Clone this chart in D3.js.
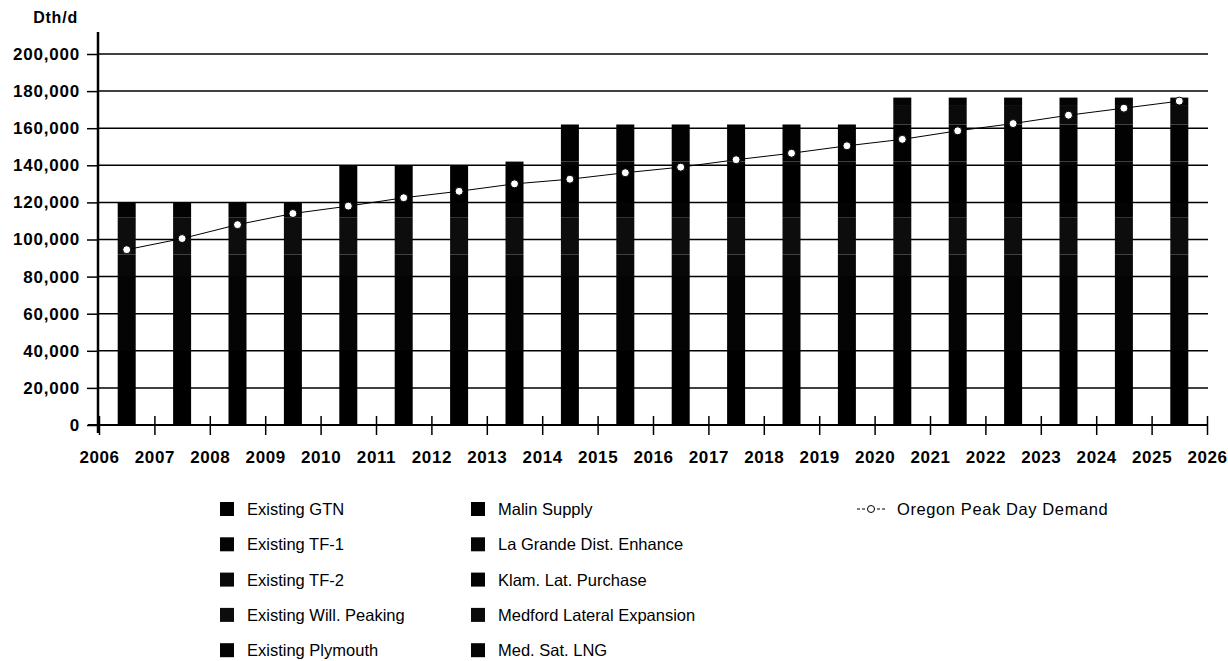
<!DOCTYPE html>
<html>
<head>
<meta charset="utf-8">
<script src="https://cdn.jsdelivr.net/npm/d3@7"></script>
<style>
body { margin: 0; background: #fff; }
svg { font-family: "Liberation Sans", Arial, sans-serif; }
</style>
</head>
<body>
<svg id="chart" width="1228" height="661"></svg>
<script>
// years on the axis, bars sit between ticks
var years = d3.range(2006, 2026);
var tickYears = d3.range(2006, 2027);

// resource stack (Dth/d)
var existingGTN   = [40000,40000,40000,40000,40000,40000,40000,40000,40000,40000,40000,40000,40000,40000,40000,40000,40000,40000,40000,40000];
var existingTF1   = [40000,40000,40000,40000,40000,40000,40000,40000,40000,40000,40000,40000,40000,40000,40000,40000,40000,40000,40000,40000];
var existingTF2   = [12000,12000,12000,12000,12000,12000,12000,12000,12000,12000,12000,12000,12000,12000,12000,12000,12000,12000,12000,12000];
var willPeaking   = [20000,20000,20000,20000,20000,20000,20000,20000,20000,20000,20000,20000,20000,20000,20000,20000,20000,20000,20000,20000];
var plymouth      = [8000,8000,8000,8000,8000,8000,8000,8000,8000,8000,8000,8000,8000,8000,8000,8000,8000,8000,8000,8000];
var malinSupply   = [0,0,0,0,20000,20000,20000,20000,20000,20000,20000,20000,20000,20000,20000,20000,20000,20000,20000,20000];
var laGrande      = [0,0,0,0,0,0,0,2000,2000,2000,2000,2000,2000,2000,2000,2000,2000,2000,2000,2000];
var klamLat       = [0,0,0,0,0,0,0,0,20000,20000,20000,20000,20000,20000,20000,20000,20000,20000,20000,20000];
var medfordExp    = [0,0,0,0,0,0,0,0,0,0,0,0,0,0,10000,10000,10000,10000,10000,10000];
var medSatLNG     = [0,0,0,0,0,0,0,0,0,0,0,0,0,0,4500,4500,4500,4500,4500,4500];

var peakDemand = [94500,100500,108000,114000,118000,122500,126000,130000,132500,136000,139000,143000,146500,150500,154000,158600,162500,167000,170800,174600];

var seriesNames = ["Existing GTN","Existing TF-1","Existing TF-2","Existing Will. Peaking","Existing Plymouth",
  "Malin Supply","La Grande Dist. Enhance","Klam. Lat. Purchase","Medford Lateral Expansion","Med. Sat. LNG"];
var seriesValues = [existingGTN, existingTF1, existingTF2, willPeaking, plymouth,
  malinSupply, laGrande, klamLat, medfordExp, medSatLNG];
var seriesColors = ["#000","#040404","#080808","#0d0d0d","#030303","#000","#060606","#020202","#0a0a0a","#040404"];

var yTicks = d3.range(0, 200001, 20000);

var svg = d3.select("#chart");
var plotL = 98, plotR = 1208, plotT = 32, plotB = 425;

var x = d3.scaleLinear().domain([2006, 2026]).range([plotL + 1, 1207]);
var y = d3.scaleLinear().domain([0, 200000]).range([plotB, 54]);

// table for stacking
var rows = years.map(function (yr, i) {
	var r = { year: yr };
	seriesNames.forEach(function (n, j) { r[n] = seriesValues[j][i]; });
	return r;
});
var stacked = d3.stack().keys(seriesNames)(rows);

// grid
svg.append("g").selectAll("line").data(yTicks.filter(d => d > 0)).join("line")
	.attr("x1", plotL).attr("x2", plotR)
	.attr("y1", d => y(d)).attr("y2", d => y(d))
	.attr("stroke", "#000").attr("stroke-width", 1.5);

// bars
var barW = 18;
svg.append("g").selectAll("g").data(stacked).join("g")
	.attr("fill", (d, i) => seriesColors[i])
	.selectAll("rect").data(d => d).join("rect")
	.attr("x", d => x(d.data.year + 0.5) - barW / 2)
	.attr("width", barW)
	.attr("y", d => y(d[1]))
	.attr("height", d => y(d[0]) - y(d[1]));

// y axis
var yAxis = d3.axisLeft(y).tickValues(yTicks).tickSize(11).tickPadding(7)
	.tickFormat(d3.format(","));
var ya = svg.append("g").attr("transform", "translate(" + plotL + ",0)").call(yAxis);
ya.select(".domain").remove();
ya.selectAll("line").attr("stroke-width", 1.5);
ya.selectAll("text").attr("font-size", 17).attr("font-weight", "bold")
	.attr("letter-spacing", 0.8).attr("fill", "#000");
svg.append("line").attr("x1", plotL).attr("x2", plotL).attr("y1", plotT).attr("y2", plotB + 8)
	.attr("stroke", "#000").attr("stroke-width", 2.5);

// x axis
var xAxis = d3.axisBottom(x).tickValues(tickYears).tickSize(10).tickPadding(16)
	.tickFormat(d3.format("d"));
var xa = svg.append("g").attr("transform", "translate(0," + plotB + ")").call(xAxis);
xa.select(".domain").remove();
xa.selectAll(".tick line").attr("y1", -9).attr("stroke-width", 1.5);
xa.selectAll("text").attr("font-size", 17).attr("font-weight", "bold")
	.attr("letter-spacing", 0.6).attr("fill", "#000");
svg.append("line").attr("x1", plotL - 10).attr("x2", plotR).attr("y1", plotB).attr("y2", plotB)
	.attr("stroke", "#000").attr("stroke-width", 2);

svg.append("text").attr("x", 78).attr("y", 23).attr("text-anchor", "end")
	.attr("font-size", 16).attr("font-weight", "bold").attr("letter-spacing", 0.8).text("Dth/d");

// demand line
var line = d3.line().x((d, i) => x(years[i] + 0.5)).y(d => y(d));
svg.append("path").datum(peakDemand).attr("d", line)
	.attr("fill", "none").attr("stroke", "#000").attr("stroke-width", 1);
svg.append("g").selectAll("circle").data(peakDemand).join("circle")
	.attr("cx", (d, i) => x(years[i] + 0.5)).attr("cy", d => y(d)).attr("r", 4)
	.attr("fill", "#fff").attr("stroke", "#000").attr("stroke-width", 1);

// legend
var legend = svg.append("g").attr("font-size", 16.5);
seriesNames.forEach(function (n, i) {
	var col = Math.floor(i / 5), row = i % 5;
	var lx = col === 0 ? 220 : 471;
	var ly = 509 + row * 35.3;
	legend.append("rect").attr("x", lx).attr("y", ly - 7).attr("width", 14).attr("height", 14)
		.attr("fill", seriesColors[i]);
	legend.append("text").attr("x", lx + 27).attr("y", ly + 6).text(n);
});
legend.append("line").attr("x1", 857).attr("x2", 885).attr("y1", 509).attr("y2", 509)
	.attr("stroke", "#000").attr("stroke-width", 1).attr("stroke-dasharray", "3,2");
legend.append("circle").attr("cx", 871).attr("cy", 509).attr("r", 3.5)
	.attr("fill", "#fff").attr("stroke", "#000");
legend.append("text").attr("x", 897).attr("y", 515).attr("letter-spacing", 0.6)
	.text("Oregon Peak Day Demand");
</script>
</body>
</html>
